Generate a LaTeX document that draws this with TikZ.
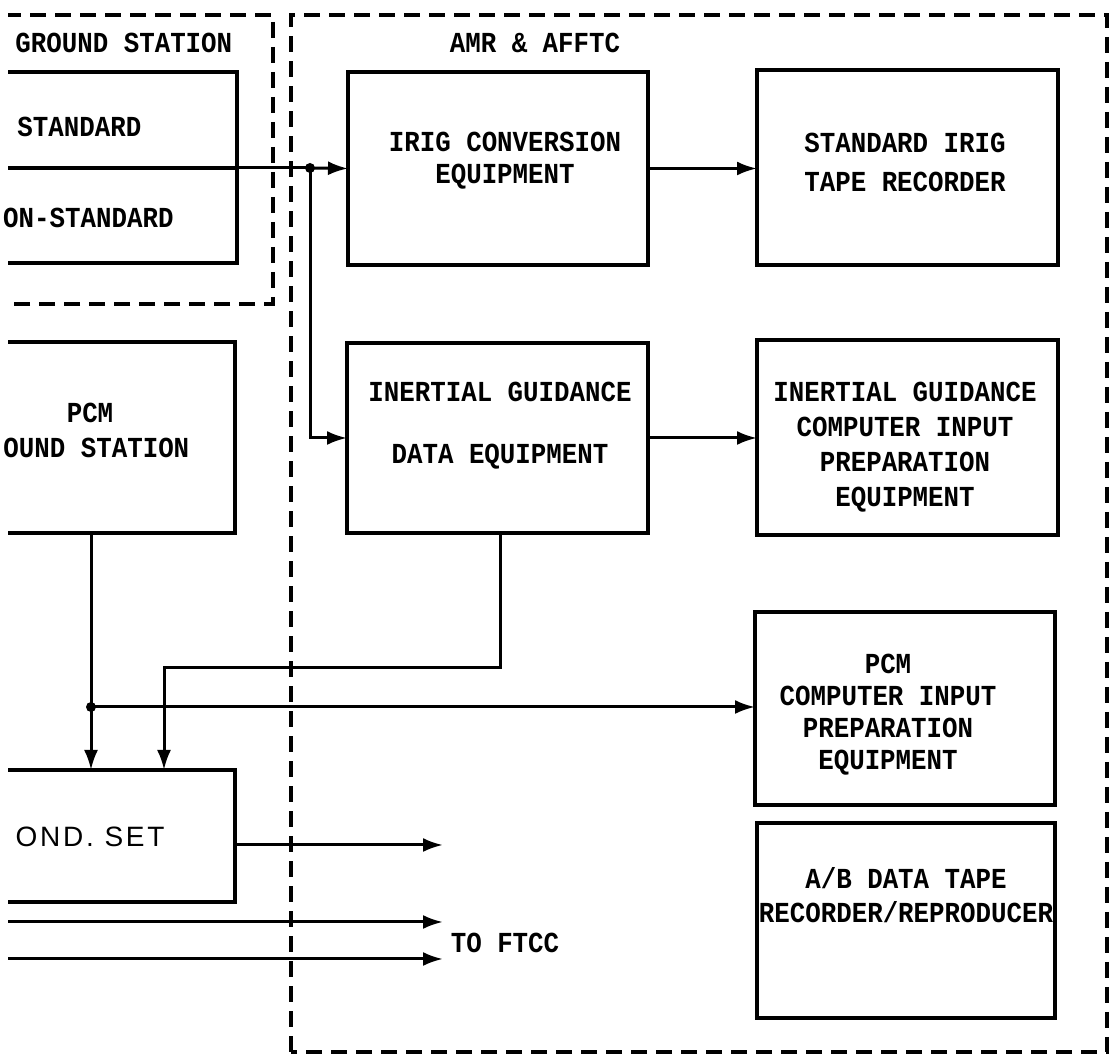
\documentclass[tikz,border=0pt]{standalone}
\usepackage{fontspec}
\newfontfamily\tw[FakeStretch=0.89]{Liberation Mono}
\newfontfamily\sansset[LetterSpace=10]{Liberation Sans}
\usetikzlibrary{fit,arrows.meta}
\tikzset{
  blk/.style={draw, line width=1.7pt, inner sep=0pt, outer sep=0pt},
  lbl/.style={font=\tw\bfseries\fontsize{14.5}{#1}\selectfont, align=center, inner sep=0pt},
  lbl/.default=16pt,
  wire/.style={line width=1.5pt},
  arr/.style={wire, -{Latex[length=10pt,width=7pt]}},
  frame/.style={line width=1.6pt, dash pattern=on 8pt off 4.5pt},
  jdot/.style={circle, fill, inner sep=0pt, minimum size=5pt},
}
\begin{document}
\begin{tikzpicture}[x=0.5pt, y=-0.5pt]
\useasboundingbox[fill=white] (0,0) rectangle (1110,1058);
\begin{scope}
\clip (8,0) rectangle (1110,1058);

% group frames
\draw[frame] (-20,15) -- (273,15) -- (273,304) -- (-20,304);
\draw[frame] (291,1052) -- (291,15) -- (1107,15) -- (1107,1052) -- cycle;

% boxes
\node[blk, fit={(-60,72) (237,168)}] (std) {};
\node[blk, fit={(-60,168) (237,263)}] (nonstd) {};
\node[blk, fit={(348,72) (648,265)}] (irig) {};
\node[blk, fit={(757,70) (1058,265)}] (sirig) {};
\node[blk, fit={(-60,342) (235,533)}] (pcmgs) {};
\node[blk, fit={(347,343) (648,533)}] (igdata) {};
\node[blk, fit={(757,340) (1058,535)}] (igcomp) {};
\node[blk, fit={(755,612) (1055,805)}] (pcmcomp) {};
\node[blk, fit={(757,823) (1055,1018)}] (abtape) {};
\node[blk, fit={(-60,770) (235,902)}] (cond) {};

% connectors
\coordinate (j1) at (310,168);
\draw[wire] (std.south east) -- (j1);
\draw[arr] (j1) -- (irig.west);
\draw[arr] (j1) |- (igdata.west);
\node[jdot] (j1dot) at (j1) {};
\draw[arr] (irig.east) -- (irig.east -| sirig.west);
\draw[arr] (igdata.east) -- (igdata.east -| igcomp.west);

\coordinate (j2) at (91,707);
\draw[wire] (pcmgs.south -| j2) -- (j2);
\draw[arr] (j2) -- (cond.north -| j2);
\draw[arr] (j2) -- (j2 -| pcmcomp.west);
\node[jdot] (j2dot) at (j2) {};

\coordinate (k1) at (500,668);
\coordinate (k2) at (164,668);
\draw[arr] (igdata.south -| k1) -- (k1) -- (k2) -- (cond.north -| k2);

\coordinate (o1) at (443,845);
\draw[arr] (cond.east |- o1) -- (o1);
\coordinate (i2) at (-20,922);
\coordinate (o2) at (443,922);
\draw[arr] (i2) -- (o2);
\coordinate (i3) at (-20,959);
\coordinate (o3) at (443,959);
\draw[arr] (i3) -- (o3);
\end{scope}

% texts
\node[lbl, anchor=west] (gstitle) at (15,43) {GROUND STATION};
\node[lbl] (amrtitle) at (535,43) {AMR \& AFFTC};
\node[lbl, anchor=west] (stdt) at (17,127) {STANDARD};
\node[lbl, anchor=east] (nonstdt) at (174,218) {ON-STANDARD};
\node[lbl=16pt] (irigt) at (505,161) {IRIG CONVERSION\\EQUIPMENT};
\node[lbl=19.5pt] (sirigt) at (905,162) {STANDARD IRIG\\TAPE RECORDER};
\node[lbl] (pcmgst1) at (90,413) {PCM};
\node[lbl, anchor=west] (pcmgst2) at (3,448) {OUND STATION};
\node[lbl=31pt] (igdatat) at (500,426) {INERTIAL GUIDANCE\\DATA EQUIPMENT};
\node[lbl=17.5pt] (igcompt) at (905,447) {INERTIAL GUIDANCE\\COMPUTER INPUT\\PREPARATION\\EQUIPMENT};
\node[lbl=16pt] (pcmcompt) at (888,715) {PCM\\COMPUTER INPUT\\PREPARATION\\EQUIPMENT};
\node[lbl=17pt] (abtapet) at (906,895) {A/B DATA TAPE\\RECORDER/REPRODUCER};
\node[font=\sansset\fontsize{14}{16}\selectfont, inner sep=0pt, anchor=base east] (condt) at (165,847) {OND. SET};
\node[lbl] (ftcc) at (505,943) {TO FTCC};
\end{tikzpicture}
\end{document}
